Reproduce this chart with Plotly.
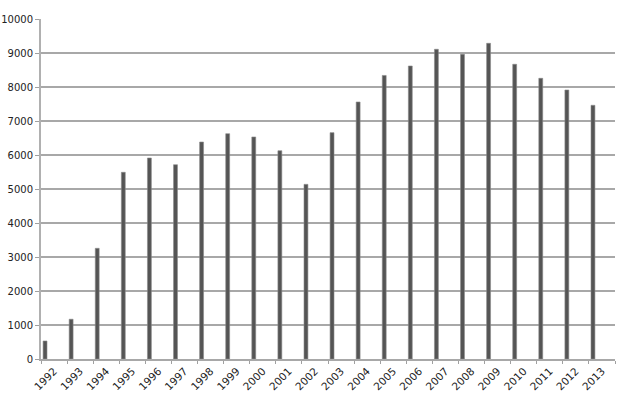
import plotly.graph_objects as go

years = [str(y) for y in range(1992, 2014)]
counts = [530, 1170, 3256, 5491, 5912, 5715, 6382, 6627, 6530, 6127, 5137,
          6657, 7559, 8340, 8618, 9109, 8962, 9285, 8668, 8256, 7912, 7462]

fig = go.Figure()

# thin dark columns sitting at the left side of each category slot
fig.add_trace(go.Bar(
    x=years,
    y=counts,
    width=0.15,
    offset=-0.42,
    marker=dict(color="#555555", line=dict(color="#8a8a8a", width=0.6)),
    hoverinfo="x+y",
))

fig.update_layout(
    width=620,
    height=412,
    margin=dict(l=41, r=5, t=19, b=53),
    plot_bgcolor="white",
    paper_bgcolor="white",
    showlegend=False,
    font=dict(family="DejaVu Sans", size=10, color="#222222"),
)

fig.update_xaxes(
    type="category",
    automargin=False,
    tickangle=-45,
    tickson="boundaries",
    ticks="outside",
    ticklen=3,
    tickcolor="#a0a0a0",
    showline=True,
    linecolor="#a8a8a8",
    linewidth=2,
    showgrid=False,
    tickfont=dict(size=10.5),
)

fig.update_yaxes(
    automargin=False,
    range=[0, 10000],
    dtick=1000,
    tickformat="d",
    ticks="outside",
    ticklen=4,
    tickcolor="#a0a0a0",
    showline=True,
    linecolor="#b0b0b0",
    linewidth=2,
    showgrid=True,
    gridcolor="#a8a8a8",
    gridwidth=1.5,
    zeroline=False,
    tickfont=dict(size=10),
)

# drop the page's default body margin so the figure sits at the window corner
fig.write_html("out.html", config={"displayModeBar": False},
               post_script="document.body.style.margin='0';")
